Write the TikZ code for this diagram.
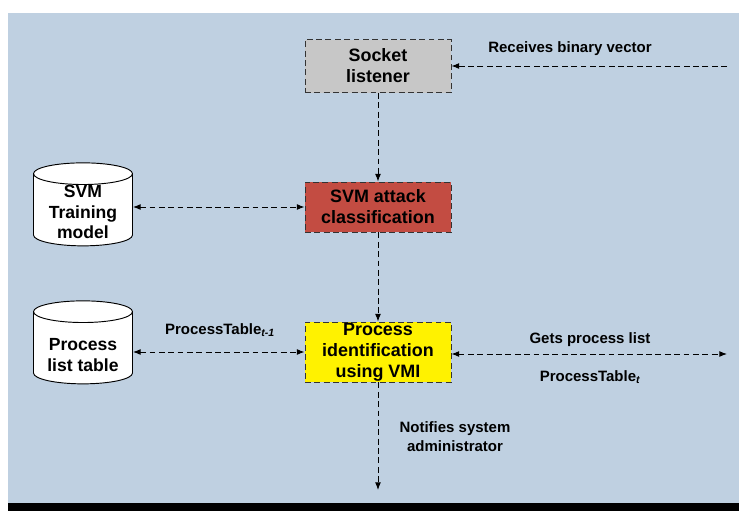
\documentclass[tikz,border=0pt]{standalone}
\usepackage{fontspec}
\setmainfont{Liberation Sans}
\usetikzlibrary{arrows.meta,shapes.geometric}
\definecolor{paneblue}{RGB}{191,208,225}
\definecolor{attackred}{RGB}{195,76,66}
\definecolor{listengray}{RGB}{199,199,199}
\newcommand{\storewidth}{\rule{26mm}{0pt}}
\tikzset{
  dashline/.style={dash pattern=on 5pt off 3pt, line width=0.8pt},
  flow/.style={dashline, -{Latex[length=6.5pt,width=5pt]}},
  twoway/.style={dashline, {Latex[length=6.5pt,width=5pt]}-{Latex[length=6.5pt,width=5pt]}},
  procbox/.style={draw=black!80, dashline, minimum width=146*0.3mm, align=center,
    font=\fontsize{15.3}{18}\selectfont\bfseries, inner sep=0pt},
  store/.style={cylinder, shape border rotate=90, draw=black, line width=0.8pt, fill=white,
    aspect=0.25, minimum width=99*0.3mm, minimum height=83*0.3mm, inner sep=0pt},
  storetxt/.style={align=center, inner sep=0pt,
    font=\fontsize{15}{17.5}\selectfont\bfseries},
  lbl/.style={font=\fontsize{12.8}{16}\selectfont\bfseries, align=center, inner sep=0pt}
}
\begin{document}
\begin{tikzpicture}[x=0.3mm, y=-0.3mm]
  \useasboundingbox (0,0) rectangle (739,511);
  \fill[paneblue] (8,13) rectangle (739,503);
  \fill[black] (8,503) rectangle (739,511);

  % processing chain
  \node[procbox, fill=listengray, minimum height=53*0.3mm] (socket) at (378,66) {Socket\\listener};
  \node[procbox, fill=attackred, minimum height=50*0.3mm] (svm) at (378,207) {SVM attack\\classification};
  \node[procbox, fill=yellow, minimum height=60*0.3mm] (vmi) at (378,352) {Process\\identification\\using VMI};

  % stores
  \node[store, label={[storetxt, yshift=-0.6mm]center:SVM\\Training\\model}] (train) at (83,210) {\storewidth};
  \node[store, label={[storetxt, yshift=-2.1mm]center:Process\\list table}] (plist) at (83,348) {\storewidth};

  \coordinate (recv) at (727,66);
  \coordinate (gets) at (727,354);
  \coordinate (notify) at (378,490);

  \draw[flow] (recv) -- (socket.east);
  \draw[flow] (socket.south) -- (svm.north);
  \draw[twoway] (train.east |- svm.west) -- (svm.west);
  \draw[flow] (svm.south) -- (vmi.north);
  \draw[twoway] (plist.east |- vmi.west) -- (vmi.west);
  \draw[twoway] (vmi.east |- gets) -- (gets);
  \draw[flow] (vmi.south) -- (notify);

  \node[lbl] (recvtxt) at (570,49) {Receives binary vector};
  \node[lbl] (prevtxt) at (220,330) {ProcessTable\textsubscript{\itshape t-1}};
  \node[lbl] (getstxt) at (590,340) {Gets process list};
  \node[lbl] (curtxt) at (590,377) {ProcessTable\textsubscript{\itshape t}};
  \node[lbl] (notetxt) at (455,437) {Notifies system\\administrator};
\end{tikzpicture}
\end{document}
